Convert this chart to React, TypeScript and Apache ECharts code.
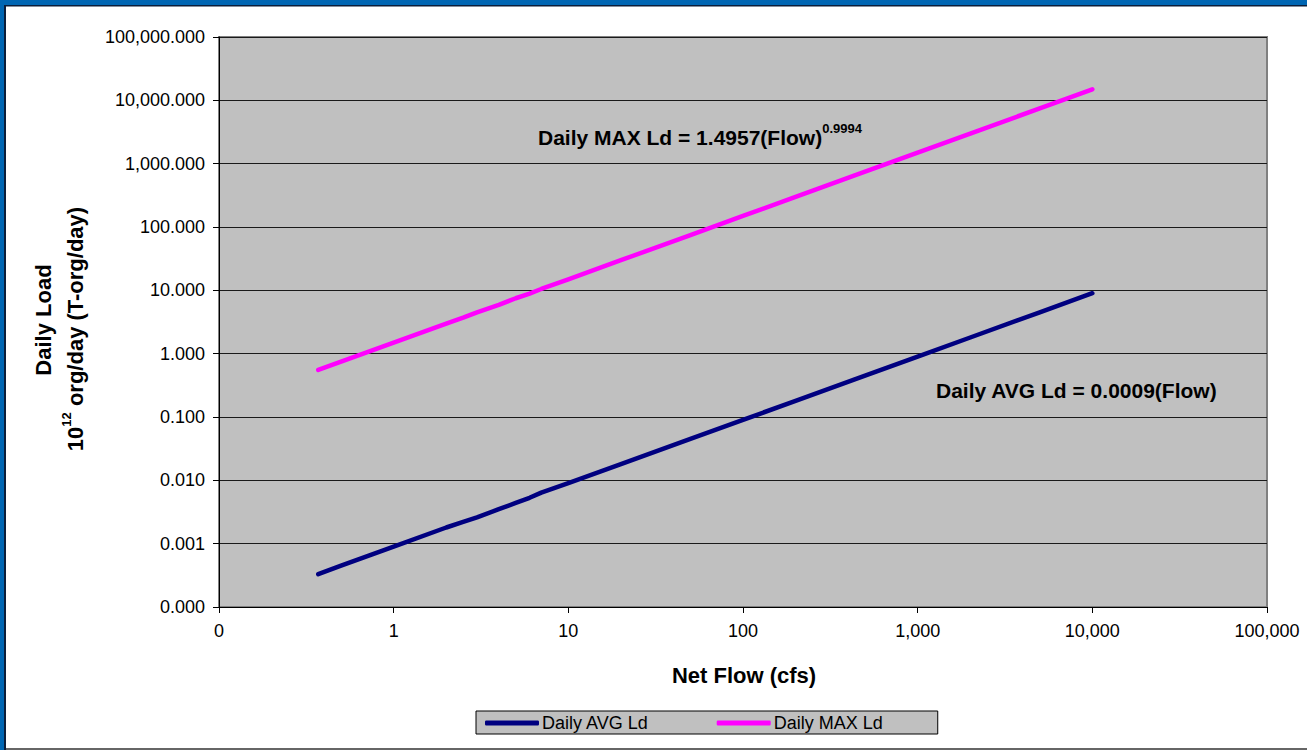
import React, { useEffect, useRef } from "react";
import * as echarts from "echarts";

const flows = [0.37, 0.5, 1, 2, 2.5, 3, 4, 5, 6, 7, 10, 20, 50, 100, 200, 500, 1000, 2000, 5000, 10000];
const avgLoad = [0.00033, 0.00045, 0.0009, 0.0018, 0.0022, 0.0026, 0.0035, 0.0044, 0.0053, 0.0064, 0.009, 0.018, 0.045, 0.09, 0.18, 0.45, 0.9, 1.8, 4.5, 9.0];
const maxLoad = [0.553, 0.748, 1.496, 2.99, 3.7, 4.5, 5.9, 7.5, 8.9, 10.5, 14.94, 29.88, 74.7, 149.3, 298.6, 746.3, 1492, 2984, 7457, 14910];

const xTickMin = 0.1;
const xTickMax = 100000;
const yTickMin = 0.0001;
const yTickMax = 100000;

const seriesNames = ["Daily AVG Ld", "Daily MAX Ld"];
const seriesColors = ["#000080", "#FF00FF"];

const FONT = "'Liberation Sans', Arial, sans-serif";

export default function App() {
  const ref = useRef<HTMLDivElement>(null);
  useEffect(() => {
    document.body.style.margin = "0";
    if (!ref.current) return;
    const chart = echarts.init(ref.current, null, { renderer: "svg" });
    const avgData = flows.map((f, i) => [f, avgLoad[i]]);
    const maxData = flows.map((f, i) => [f, maxLoad[i]]);
    chart.setOption({
      animation: false,
      backgroundColor: "#FFFFFF",
      textStyle: { fontFamily: FONT },
      grid: {
        left: 219,
        top: 37,
        width: 1048,
        height: 570,
        show: true,
        backgroundColor: "#C0C0C0",
        borderColor: "#808080",
        borderWidth: 2,
      },
      xAxis: {
        type: "log",
        logBase: 10,
        min: xTickMin,
        max: xTickMax,
        splitNumber: 6,
        axisLine: { show: true, lineStyle: { color: "#000", width: 1 } },
        axisTick: { show: true, length: 6, inside: false, lineStyle: { color: "#000" } },
        splitLine: { show: false },
        minorTick: { show: false },
        axisLabel: {
          fontSize: 18,
          color: "#000",
          fontFamily: FONT,
          margin: 15,
          formatter: (v: number) => (v < 1 ? "0" : Math.round(v).toLocaleString("en-US")),
        },
      },
      yAxis: {
        type: "log",
        logBase: 10,
        min: yTickMin,
        max: yTickMax,
        splitNumber: 10,
        axisLine: { show: true, lineStyle: { color: "#000", width: 1 } },
        axisTick: { show: true, length: 6, inside: false, lineStyle: { color: "#000" } },
        splitLine: { show: true, lineStyle: { color: "#1A1A1A", width: 1 } },
        axisLabel: {
          fontSize: 18,
          color: "#000",
          fontFamily: FONT,
          margin: 14,
          formatter: (v: number) =>
            v.toLocaleString("en-US", { minimumFractionDigits: 3, maximumFractionDigits: 3 }),
        },
      },
      legend: {
        left: 476,
        top: 711,
        orient: "horizontal",
        backgroundColor: "#C0C0C0",
        borderColor: "#000",
        borderWidth: 1,
        padding: [3, 55, 2, 9],
        icon: "roundRect",
        itemWidth: 54,
        itemHeight: 5,
        itemGap: 68,
        textStyle: { fontSize: 18, color: "#000", fontFamily: FONT, padding: [0, 0, 0, -2] },
        data: seriesNames,
      },
      series: [
        {
          name: seriesNames[0],
          type: "line",
          data: avgData,
          symbol: "none",
          smooth: false,
          lineStyle: { color: seriesColors[0], width: 4.5, cap: "round", join: "round" },
          itemStyle: { color: seriesColors[0] },
        },
        {
          name: seriesNames[1],
          type: "line",
          data: maxData,
          symbol: "none",
          smooth: false,
          lineStyle: { color: seriesColors[1], width: 4.5, cap: "round", join: "round" },
          itemStyle: { color: seriesColors[1] },
        },
      ],
      graphic: [
        { type: "rect", shape: { x: 0, y: 0, width: 1307, height: 5 }, style: { fill: "#0066B3" }, z: 10 },
        { type: "rect", shape: { x: 0, y: 5, width: 1307, height: 1.5 }, style: { fill: "#0B1E3A" }, z: 10 },
        { type: "rect", shape: { x: 0, y: 0, width: 4, height: 750 }, style: { fill: "#0066B3" }, z: 10 },
        { type: "rect", shape: { x: 4, y: 5, width: 2, height: 745 }, style: { fill: "#0B1E3A" }, z: 10 },
        { type: "rect", shape: { x: 6, y: 748, width: 1301, height: 2 }, style: { fill: "#666666" }, z: 10 },
        {
          type: "text",
          x: 538,
          y: 135,
          z: 20,
          style: {
            text: "{m|Daily MAX Ld = 1.4957(Flow)}{s|0.9994}",
            textVerticalAlign: "middle",
            textAlign: "left",
            rich: {
              m: { fontSize: 21, fontWeight: "bold", fontFamily: FONT, fill: "#000", lineHeight: 26, verticalAlign: "bottom" },
              s: { fontSize: 13, fontWeight: "bold", fontFamily: FONT, fill: "#000", lineHeight: 26, verticalAlign: "top" },
            },
          },
        },
        {
          type: "text",
          x: 936,
          y: 390,
          z: 20,
          style: {
            text: "Daily AVG Ld = 0.0009(Flow)",
            fontSize: 21,
            fontWeight: "bold",
            fontFamily: FONT,
            fill: "#000",
            textAlign: "left",
            textVerticalAlign: "middle",
          },
        },
        {
          type: "text",
          x: 744,
          y: 675,
          z: 20,
          style: {
            text: "Net Flow (cfs)",
            fontSize: 22,
            fontWeight: "bold",
            fontFamily: FONT,
            fill: "#000",
            textAlign: "center",
            textVerticalAlign: "middle",
          },
        },
        {
          type: "text",
          x: 43,
          y: 320,
          rotation: Math.PI / 2,
          z: 20,
          style: {
            text: "Daily Load",
            fontSize: 22,
            fontWeight: "bold",
            fontFamily: FONT,
            fill: "#000",
            textAlign: "center",
            textVerticalAlign: "middle",
          },
        },
        {
          type: "text",
          x: 73,
          y: 329,
          rotation: Math.PI / 2,
          z: 20,
          style: {
            text: "{m|10}{s|12}{m| org/day (T-org/day)}",
            textAlign: "center",
            textVerticalAlign: "middle",
            rich: {
              m: { fontSize: 22, fontWeight: "bold", fontFamily: FONT, fill: "#000", lineHeight: 26, verticalAlign: "bottom" },
              s: { fontSize: 13, fontWeight: "bold", fontFamily: FONT, fill: "#000", lineHeight: 26, verticalAlign: "top" },
            },
          },
        },
      ],
    });
    return () => chart.dispose();
  }, []);
  return <div ref={ref} style={{ width: 1307, height: 750 }} />;
}
